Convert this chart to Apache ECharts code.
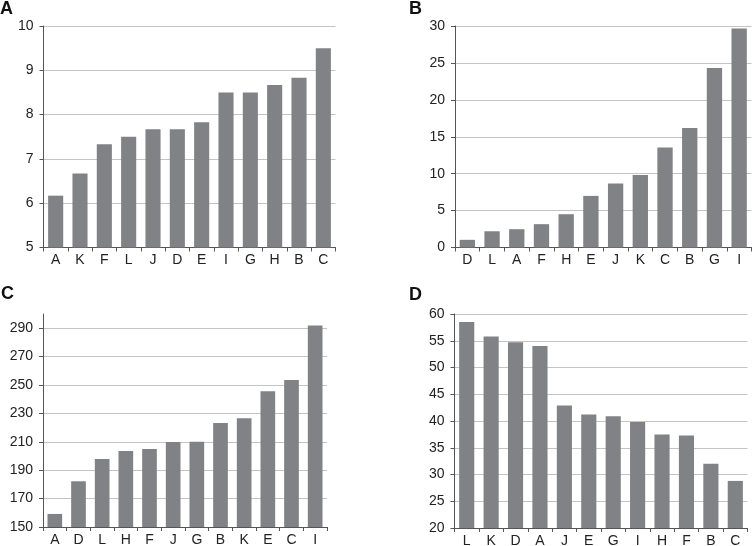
<!DOCTYPE html>
<html>
<head>
<meta charset="utf-8">
<script src="https://cdn.jsdelivr.net/npm/echarts@6/dist/echarts.min.js"></script>
<style>html,body{margin:0;padding:0;background:#fff}#c{width:752px;height:546px}</style>
</head>
<body>
<div id="c"></div>
<script>
// Panel A
const catsA = ['A','K','F','L','J','D','E','I','G','H','B','C'];
const valsA = [6.17, 6.67, 7.33, 7.5, 7.67, 7.67, 7.83, 8.5, 8.5, 8.67, 8.83, 9.5];
// Panel B
const catsB = ['D','L','A','F','H','E','J','K','C','B','G','I'];
const valsB = [1.04, 2.2, 2.48, 3.16, 4.51, 6.99, 8.66, 9.83, 13.53, 16.19, 24.31, 29.65];
// Panel C
const catsC = ['A','D','L','H','F','J','G','B','K','E','C','I'];
const valsC = [159.2, 182.2, 197.9, 203.6, 205.0, 209.9, 210.0, 223.3, 226.6, 245.6, 253.6, 291.9];
// Panel D
const catsD = ['L','K','D','A','J','E','G','I','H','F','B','C'];
const valsD = [58.5, 55.8, 54.7, 54.0, 42.9, 41.2, 40.9, 39.8, 37.5, 37.3, 32.0, 28.8];
// Axis settings
const yA = {min: 5, max: 10, interval: 1};
const yB = {min: 0, max: 30, interval: 5};
const yC = {min: 150, max: 300, interval: 10, labelStep: 20};
const yD = {min: 20, max: 60, interval: 5};
const panelLabels = ['A','B','C','D'];

const FONT = "'Liberation Sans', Arial, sans-serif";
const AXIS = '#555';
const GRIDC = '#c4c4c4';
const BAR = '#808285';

const grids = [
  {left: 43.5, top: 26, width: 292, height: 221.5},
  {left: 455, top: 26, width: 296.5, height: 221.5},
  {left: 43, top: 314, width: 284, height: 213},
  {left: 454.5, top: 314, width: 293, height: 214},
  // tick strip for panel C
  {left: 39, top: 314, width: 4, height: 213}
];
grids.forEach(g => { g.outerBoundsMode = 'none'; g.containLabel = false; });

function xAxis(cats, gi) {
  return {
    type: 'category', data: cats, gridIndex: gi,
    axisLine: {lineStyle: {color: AXIS, width: 1}},
    axisTick: {show: true, length: 4, lineStyle: {color: AXIS}},
    axisLabel: {color: '#222', fontFamily: FONT, fontSize: 14, margin: 6},
    splitLine: {show: false}
  };
}
function yAxis(cfg, gi) {
  return {
    type: 'value', gridIndex: gi, min: cfg.min, max: cfg.max, interval: cfg.interval,
    axisLine: {show: true, lineStyle: {color: AXIS, width: 1}},
    axisTick: {show: true, length: 4, lineStyle: {color: AXIS}},
    axisLabel: {color: '#222', fontFamily: FONT, fontSize: 14, margin: 10},
    splitLine: {show: true, lineStyle: {color: GRIDC, width: 1}}
  };
}

const xAxes = [xAxis(catsA,0), xAxis(catsB,1), xAxis(catsC,2), xAxis(catsD,3),
  {type: 'category', gridIndex: 4, data: catsC, show: false}];
const yAxes = [yAxis(yA,0), yAxis(yB,1), yAxis(yC,2), yAxis(yD,3)];
// Panel C: labels and grid lines every 20, starting at 150
yAxes[2].axisTick = {show: false};
yAxes[2].axisLabel.formatter = function (v) {
  return ((v - yC.min) % yC.labelStep === 0 && v < yC.max) ? String(v) : '';
};
yAxes[2].splitLine.lineStyle.color = [GRIDC, 'rgba(0,0,0,0)'];
// tick strip for panel C (short dark lines left of axis)
yAxes.push({
  type: 'value', gridIndex: 4, min: yC.min, max: yC.max, interval: yC.interval,
  axisLine: {show: false}, axisTick: {show: false}, axisLabel: {show: false},
  splitLine: {show: true, lineStyle: {color: [AXIS, 'rgba(0,0,0,0)'], width: 1}}
});

function bar(vals, i) {
  return {
    type: 'bar', xAxisIndex: i, yAxisIndex: i, data: vals,
    barCategoryGap: '38%',
    itemStyle: {color: BAR},
    silent: true, animation: false
  };
}

const titlePos = [[0, 9], [409, 9], [1, 294], [409, 295]];
const chart = echarts.init(document.getElementById('c'), null, {renderer: 'canvas'});
chart.setOption({
  backgroundColor: '#fff',
  animation: false,
  grid: grids,
  xAxis: xAxes,
  yAxis: yAxes,
  series: [bar(valsA,0), bar(valsB,1), bar(valsC,2), bar(valsD,3)],
  graphic: panelLabels.map((t, i) => ({
    type: 'text', left: titlePos[i][0], top: titlePos[i][1] - 9,
    style: {text: t, font: "bold 18px 'Liberation Sans', Arial, sans-serif", fill: '#111'}
  }))
});
</script>
</body>
</html>
